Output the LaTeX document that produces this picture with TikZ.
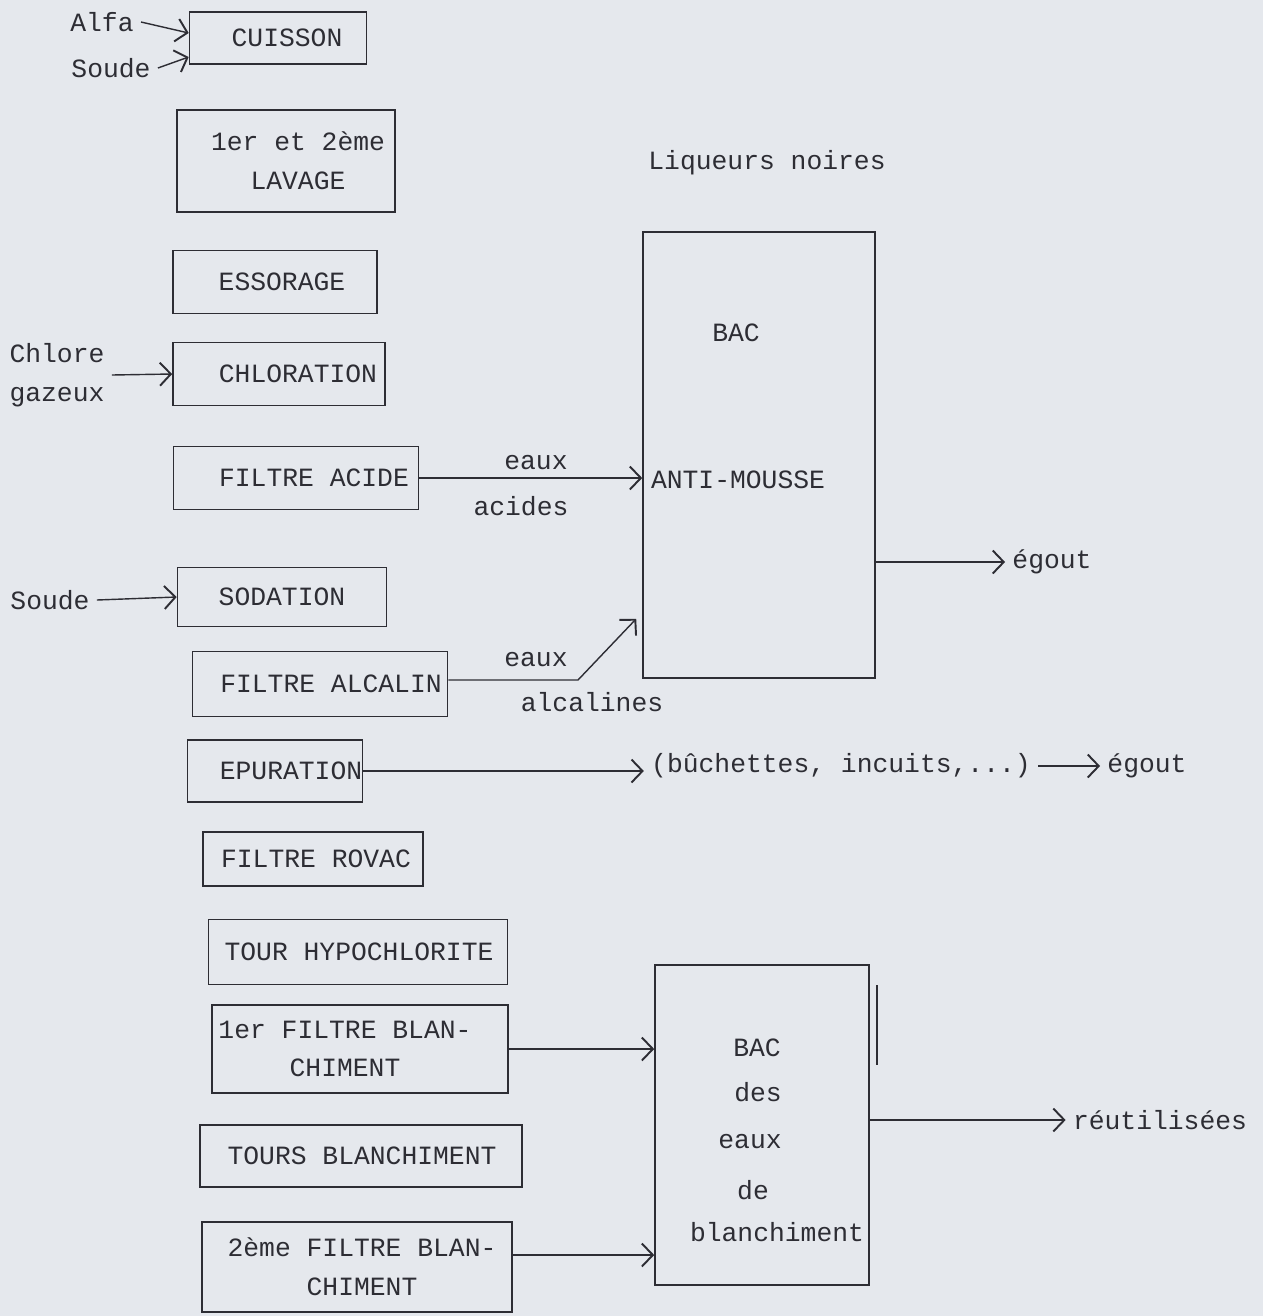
\documentclass[tikz,border=0pt]{standalone}
\usepackage{fontspec}
\setmainfont{Liberation Mono}
\usetikzlibrary{arrows.meta,calc}
\definecolor{paper}{RGB}{229,232,237}
\definecolor{ink}{RGB}{45,45,52}
\newcommand\typo{\fontsize{15}{22}\selectfont}
\tikzset{
  >={Straight Barb[length=2.2mm,width=4.6mm,line width=1.1pt]},
  stage/.style={draw=ink,line width=0.9pt,inner sep=0pt},
  tank/.style={draw=ink,line width=0.9pt,inner sep=0pt},
  flow/.style={->,draw=ink,line width=0.8pt},
  tag/.style={font=\typo,text=ink,inner sep=4pt,align=center},
}
\begin{document}
\begin{tikzpicture}[x=0.02cm,y=-0.02cm]
  \fill[paper] (0,0) rectangle (1263,1316);
  % process stages (box, then its text shifted by \d)
  \foreach \n/\x/\y/\w/\h/\d/\t in {
    cuisson/278/38/177/52/9/CUISSON,
    lavage/286/161/218/102/12/{1er et 2ème\\LAVAGE},
    essorage/275/282/204/63/7/ESSORAGE,
    chloration/279/374/212/63/19/CHLORATION,
    acide/296/478/245/63/18/FILTRE ACIDE,
    sodation/282/597/209/59/0/SODATION,
    alcalin/320/684/255/65/11/FILTRE ALCALIN,
    epuration/275/771/175/62/16/EPURATION,
    rovac/313/859/220/54/3/FILTRE ROVAC,
    hypo/358/952/299/65/1/TOUR HYPOCHLORITE,
    filtre1/360/1049/296/88/-15/{1er FILTRE BLAN-\\CHIMENT},
    tours/361/1156/322/62/1/TOURS BLANCHIMENT,
    filtre2/357/1267/310/90/5/{2ème FILTRE BLAN-\\CHIMENT}}{
    \node[stage,minimum width=\w*0.02cm,minimum height=\h*0.02cm] (\n) at (\x,\y) {};
    \node[tag] (\n t) at ($(\n)+(\d,0)$) {\t};
  }

  % inputs
  \node[tag] (alfa) at (102,22) {Alfa};
  \node[tag] (soude) at (111,68) {Soude};
  \draw[flow] (alfa.east) -- ($(cuisson.west)+(0,-5)$);
  \draw[flow] (soude.east) -- ($(cuisson.west)+(0,19)$);
  \node[tag,align=left] (chlore) at (57,375) {Chlore\\gazeux};
  \draw[flow] (chlore.east) -- (chloration.west);
  \node[tag] (soude2) at (50,600) {Soude};
  \draw[flow] (soude2.east) -- (sodation.west);

  % bac anti-mousse
  \node[tag] (liq) at (767,163) {Liqueurs noires};
  \node[tank,minimum width=232*0.02cm,minimum height=446*0.02cm] (bac1) at (759,455) {};
  \node[tag] (bac1a) at (736,333) {BAC};
  \node[tag] (bac1b) at (738,480) {ANTI-MOUSSE};
  \draw[flow] (acide.east) -- (bac1.west |- acide.east);
  \node[tag] (eaux1) at (536,463) {eaux};
  \node[tag] (acides) at (521,506) {acides};
  \coordinate (coude) at (578,680);
  \draw[flow] (alcalin.east |- coude) -- (coude) -- ($(bac1.south west)+(-6,-60)$);
  \node[tag] (eaux2) at (536,660) {eaux};
  \node[tag] (alca) at (592,702) {alcalines};
  \node[tag] (egout1) at (1052,562) {égout};
  \draw[flow] (bac1.east |- egout1) -- (egout1.west);

  % epuration
  \node[tag] (debris) at (841,766) {(bûchettes, incuits,...)};
  \draw[flow] (epuration.east) -- (epuration.east -| debris.west);
  \node[tag] (egout2) at (1147,766) {égout};
  \draw[flow] (debris.east) -- (egout2.west);

  % bac des eaux de blanchiment
  \node[tank,minimum width=214*0.02cm,minimum height=320*0.02cm] (bac2) at (762,1125) {};
  \foreach \n/\x/\y/\t in {b1/757/1048/BAC,b2/758/1092/des,b3/750/1142/eaux,b4/753/1190/de,b5/777/1232/blanchiment}
    \node[tag] (\n) at (\x,\y) {\t};
  \draw[ink,line width=0.9pt] (877,985) -- (877,1065);
  \draw[flow] (filtre1.east) -- (bac2.west |- filtre1.east);
  \coordinate (f2out) at ($(filtre2.east)+(0,-12)$);
  \draw[flow] (f2out) -- (bac2.west |- f2out);
  \node[tag] (reutil) at (1160,1120) {réutilisées};
  \draw[flow] (bac2.east |- reutil) -- (reutil.west);
\end{tikzpicture}
\end{document}
